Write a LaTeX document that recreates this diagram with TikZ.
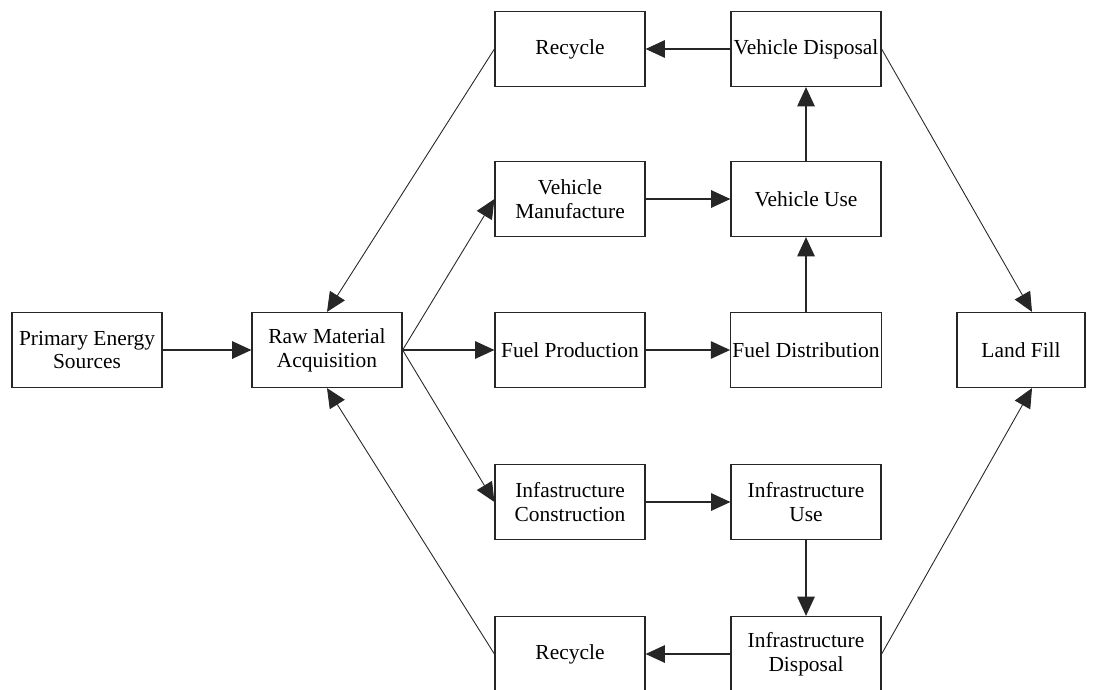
\documentclass[tikz,border=0pt]{standalone}
\usepackage{fontspec}
\setmainfont{Liberation Serif}
\usetikzlibrary{arrows.meta}

\begin{document}
\begin{tikzpicture}[
    x=0.02cm, y=-0.02cm,
    stage/.style={
      rectangle, draw=black!85, line width=0.7pt, fill=white,
      minimum width=3cm, minimum height=1.5cm, inner sep=1pt,
      align=center, font=\fontsize{12.2}{13.5}\selectfont
    },
    flow/.style={-{Triangle[length=11pt,width=10pt]}, line width=0.7pt, black!85},
    diag/.style={-{Triangle[length=11pt,width=10pt]}, line width=0.5pt, black!85},
]
\useasboundingbox (0,0) rectangle (1097,689);

% ===== LEFT: sources =====
\node[stage] (pes) at (87, 350) {Primary Energy\\Sources};
\node[stage] (raw) at (327, 350) {Raw Material\\Acquisition};

% ===== MIDDLE COLUMN =====
\node[stage] (rec1)  at (570, 49)  {Recycle};
\node[stage] (vman)  at (570, 199) {Vehicle\\Manufacture};
\node[stage] (fprod) at (570, 350) {Fuel Production};
\node[stage] (icon)  at (570, 502) {Infastructure\\Construction};
\node[stage] (rec2)  at (570, 654) {Recycle};

% ===== RIGHT COLUMN =====
\node[stage] (vdisp) at (806, 49)  {Vehicle Disposal};
\node[stage] (vuse)  at (806, 199) {Vehicle Use};
\node[stage] (fdist) at (806, 350) {Fuel Distribution};
\node[stage] (iuse)  at (806, 502) {Infrastructure\\Use};
\node[stage] (idisp) at (806, 654) {Infrastructure\\Disposal};

% ===== END OF LIFE =====
\node[stage, minimum width=2.56cm] (lfill) at (1021, 350) {Land Fill};
\coordinate (lftop) at ([xshift=0.22cm]lfill.north);
\coordinate (lfbot) at ([xshift=0.22cm]lfill.south);

% ===== MAIN FLOWS =====
\draw[flow] (pes.east) -- (raw.west);
\draw[flow] (raw.east) -- (fprod.west);
\draw[flow] (fprod.east) -- (fdist.west);
\draw[flow] (vman.east) -- (vuse.west);
\draw[flow] (icon.east) -- (iuse.west);
\draw[flow] (fdist.north) -- (vuse.south);
\draw[flow] (vuse.north) -- (vdisp.south);
\draw[flow] (iuse.south) -- (idisp.north);
\draw[flow] (vdisp.west) -- (rec1.east);
\draw[flow] (idisp.west) -- (rec2.east);

% ===== DIAGONALS =====
\draw[diag] (raw.east) -- (vman.west);
\draw[diag] (raw.east) -- (icon.west);
\draw[diag] (rec1.west) -- (raw.north);
\draw[diag] (rec2.west) -- (raw.south);
\draw[diag] (vdisp.east) -- (lftop);
\draw[diag] (idisp.east) -- (lfbot);

\end{tikzpicture}
\end{document}
